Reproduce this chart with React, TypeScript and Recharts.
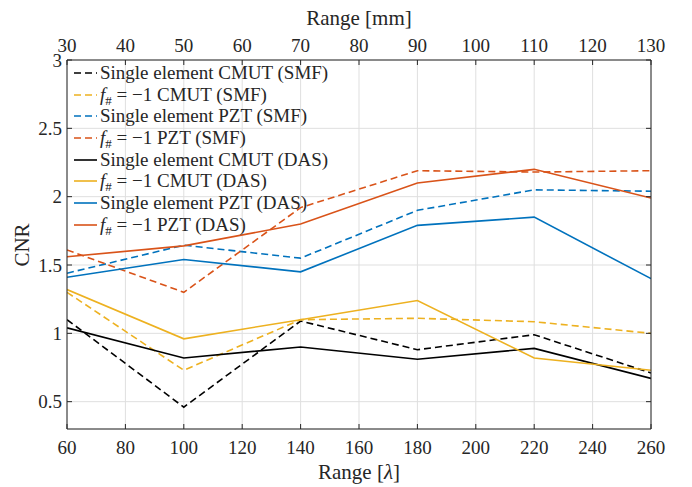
import React from 'react';
import { LineChart, Line, XAxis, YAxis, CartesianGrid } from 'recharts';

const rangeLambda = [60, 100, 140, 180, 220, 260];
const rangeMm = [30, 50, 70, 90, 110, 130];

const cmutSmf = [1.10, 0.46, 1.09, 0.88, 0.99, 0.71];
const fCmutSmf = [1.30, 0.73, 1.10, 1.11, 1.085, 1.00];
const pztSmf = [1.44, 1.645, 1.55, 1.90, 2.05, 2.04];
const fPztSmf = [1.61, 1.30, 1.92, 2.19, 2.18, 2.19];
const cmutDas = [1.04, 0.82, 0.90, 0.81, 0.89, 0.67];
const fCmutDas = [1.32, 0.96, 1.10, 1.24, 0.82, 0.73];
const pztDas = [1.41, 1.54, 1.45, 1.79, 1.85, 1.40];
const fPztDas = [1.56, 1.64, 1.80, 2.10, 2.20, 1.99];

const bottomTicks = [60, 80, 100, 120, 140, 160, 180, 200, 220, 240, 260];
const topTicks = [30, 40, 50, 60, 70, 80, 90, 100, 110, 120, 130];
const yTicks = [0.5, 1, 1.5, 2, 2.5, 3];

const BLACK = '#000000';
const YELLOW = '#EDB120';
const BLUE = '#0072BD';
const ORANGE = '#D95319';

type SeriesDef = { key: string; values: number[]; color: string; dashed: boolean; kind: 'single' | 'f'; name: string };

const series: SeriesDef[] = [
  { key: 'cmutSmf', values: cmutSmf, color: BLACK, dashed: true, kind: 'single', name: 'CMUT (SMF)' },
  { key: 'fCmutSmf', values: fCmutSmf, color: YELLOW, dashed: true, kind: 'f', name: 'CMUT (SMF)' },
  { key: 'pztSmf', values: pztSmf, color: BLUE, dashed: true, kind: 'single', name: 'PZT (SMF)' },
  { key: 'fPztSmf', values: fPztSmf, color: ORANGE, dashed: true, kind: 'f', name: 'PZT (SMF)' },
  { key: 'cmutDas', values: cmutDas, color: BLACK, dashed: false, kind: 'single', name: 'CMUT (DAS)' },
  { key: 'fCmutDas', values: fCmutDas, color: YELLOW, dashed: false, kind: 'f', name: 'CMUT (DAS)' },
  { key: 'pztDas', values: pztDas, color: BLUE, dashed: false, kind: 'single', name: 'PZT (DAS)' },
  { key: 'fPztDas', values: fPztDas, color: ORANGE, dashed: false, kind: 'f', name: 'PZT (DAS)' },
];

const data = rangeLambda.map((lam, i) => {
  const row: Record<string, number> = { lam, mm: rangeMm[i] };
  series.forEach((s) => {
    row[s.key] = s.values[i];
  });
  return row;
});

const AXIS = '#262626';
const FONT = '"Liberation Serif"';
const TICK_FS = 19;
const TL = 5;

const BottomTick = (props: any) => {
  const { x, y, payload } = props;
  return (
    <g>
      <line x1={x} y1={y} x2={x} y2={y - TL} stroke={AXIS} strokeWidth={1} />
      <text x={x} y={y + 25} textAnchor="middle" style={{ fontFamily: FONT }} fontSize={TICK_FS} fill={AXIS}>
        {payload.value}
      </text>
    </g>
  );
};

const TopTick = (props: any) => {
  const { x, y, payload } = props;
  return (
    <g>
      <line x1={x} y1={y} x2={x} y2={y + TL} stroke={AXIS} strokeWidth={1} />
      <text x={x} y={y - 8.5} textAnchor="middle" style={{ fontFamily: FONT }} fontSize={TICK_FS} fill={AXIS}>
        {payload.value}
      </text>
    </g>
  );
};

const LeftTick = (props: any) => {
  const { x, y, payload } = props;
  return (
    <g>
      <line x1={x} y1={y} x2={x + TL} y2={y} stroke={AXIS} strokeWidth={1} />
      <text x={x - 5} y={y + 6.5} textAnchor="end" style={{ fontFamily: FONT }} fontSize={TICK_FS} fill={AXIS}>
        {payload.value}
      </text>
    </g>
  );
};

const RightTick = (props: any) => {
  const { x, y } = props;
  return (
    <g>
      <line x1={x} y1={y} x2={x - TL} y2={y} stroke={AXIS} strokeWidth={1} />
    </g>
  );
};

const LegendLabel = ({ s }: { s: SeriesDef }) =>
  s.kind === 'single' ? (
    <span>Single element {s.name}</span>
  ) : (
    <span>
      <i>f</i>
      <sub style={{ fontSize: 13, verticalAlign: -4, lineHeight: 0 }}>#</sub> = &minus;1 {s.name}
    </span>
  );

export default function App() {
  return (
    <div style={{ position: 'relative', width: 684, height: 479, fontFamily: FONT, color: AXIS, background: '#fff' }}>
      <LineChart width={684} height={479} data={data} margin={{ top: 12, right: 31, bottom: 8, left: 9 }}>
        <CartesianGrid xAxisId="bottom" yAxisId="left" stroke="#dfdfdf" strokeWidth={1} />
        <XAxis
          xAxisId="bottom"
          dataKey="lam"
          type="number"
          domain={[60, 260]}
          ticks={bottomTicks}
          interval={0}
          height={50}
          tickSize={0}
          tickMargin={0}
          tick={BottomTick}
          stroke={AXIS}
          allowDataOverflow
        />
        <XAxis
          xAxisId="top"
          orientation="top"
          dataKey="mm"
          type="number"
          domain={[30, 130]}
          ticks={topTicks}
          interval={0}
          height={40}
          tickSize={0}
          tickMargin={0}
          tick={TopTick}
          stroke={AXIS}
          allowDataOverflow
        />
        <YAxis
          yAxisId="left"
          type="number"
          domain={[0.3, 3]}
          ticks={yTicks}
          interval={0}
          width={50}
          tickSize={0}
          tickMargin={0}
          tick={LeftTick}
          stroke={AXIS}
          allowDataOverflow
        />
        <YAxis
          yAxisId="right"
          orientation="right"
          type="number"
          domain={[0.3, 3]}
          ticks={yTicks}
          interval={0}
          width={10}
          tickSize={0}
          tickMargin={0}
          tick={RightTick}
          stroke={AXIS}
          allowDataOverflow
        />
        {series.map((s) => (
          <Line
            key={s.key}
            xAxisId="bottom"
            yAxisId="left"
            dataKey={s.key}
            stroke={s.color}
            strokeWidth={1.6}
            strokeDasharray={s.dashed ? '7 4' : undefined}
            dot={false}
            activeDot={false}
            isAnimationActive={false}
          />
        ))}
      </LineChart>

      <div style={{ position: 'absolute', left: 0, width: 684, top: 0, fontSize: 21, lineHeight: '21px' }}>
        <div style={{ position: 'absolute', left: 351, top: 10, transform: 'translate(-50%, -50%)', whiteSpace: 'nowrap' }}>Range [mm]</div>
        <div style={{ position: 'absolute', left: 351, top: 464, transform: 'translate(-50%, -50%)', whiteSpace: 'nowrap' }}>
          Range [<i>λ</i>]
        </div>
        <div style={{ position: 'absolute', left: 14, top: 237, transform: 'translate(-50%, -50%) rotate(-90deg)', whiteSpace: 'nowrap' }}>CNR</div>
      </div>

      <div style={{ position: 'absolute', left: 66, top: 54.2, fontSize: 19 }}>
        {series.map((s) => (
          <div key={s.key} style={{ display: 'flex', alignItems: 'center', height: 21.7, whiteSpace: 'nowrap' }}>
            <svg width={23} height={4} style={{ marginRight: 3, flex: 'none' }}>
              <line x1={0} y1={2} x2={23} y2={2} stroke={s.color} strokeWidth={1.6} strokeDasharray={s.dashed ? '7 4' : undefined} />
            </svg>
            <LegendLabel s={s} />
          </div>
        ))}
      </div>
    </div>
  );
}
